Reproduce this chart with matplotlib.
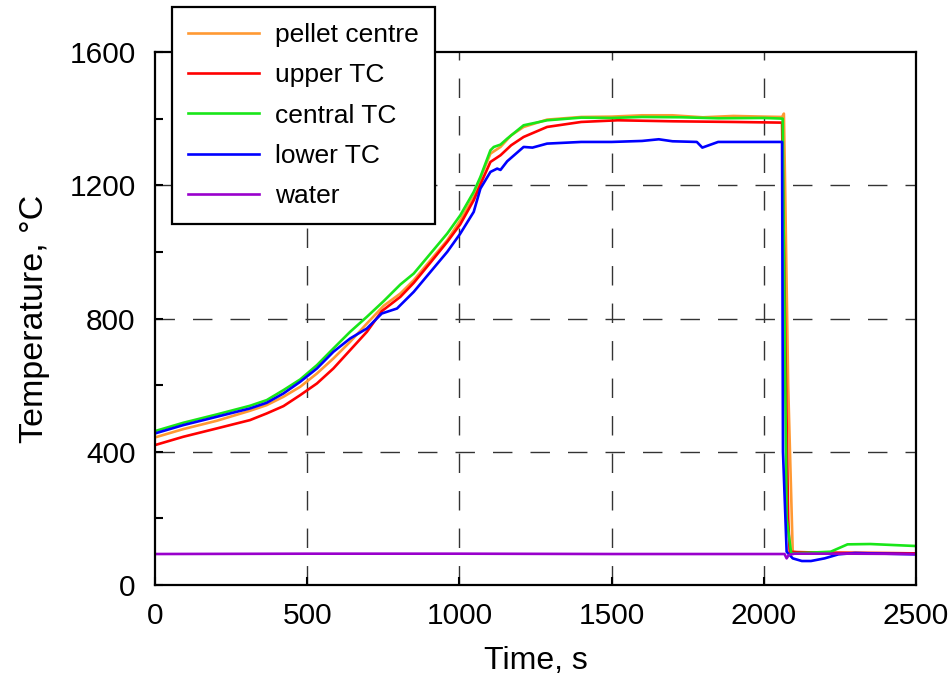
import numpy as np
import matplotlib
matplotlib.use("Agg")
import matplotlib.pyplot as plt

plt.rcParams['font.family'] = ['Liberation Sans', 'DejaVu Sans']

# pellet centre (orange)
t_pellet = [0, 93, 203, 312, 367, 422, 477, 532, 586, 641, 696, 751, 806, 850,
            905, 960, 1003, 1047, 1075, 1102, 1135, 1170, 1211, 1288, 1400,
            1500, 1600, 1700, 1800, 1900, 2000, 2060, 2066, 2070, 2080, 2095,
            2110, 2200, 2500]
T_pellet = [443, 468, 493, 523, 540, 565, 595, 635, 680, 730, 785, 838, 875, 915,
            975, 1035, 1095, 1165, 1235, 1295, 1315, 1350, 1375, 1397, 1405,
            1406, 1410, 1410, 1404, 1408, 1406, 1405, 1415, 1200, 600, 100,
            98, 97, 95]

# upper TC (red)
t_upper = [0, 93, 203, 312, 367, 422, 477, 532, 586, 641, 696, 745, 806, 850,
           905, 960, 1003, 1047, 1075, 1102, 1135, 1170, 1211, 1288, 1400,
           1520, 1700, 1900, 2060, 2068, 2080, 2085, 2100, 2200, 2500]
T_upper = [420, 445, 470, 495, 515, 537, 570, 605, 650, 705, 760, 822, 865, 907,
           968, 1030, 1083, 1155, 1215, 1270, 1290, 1320, 1345, 1375, 1390,
           1395, 1392, 1390, 1388, 900, 200, 100, 99, 97, 95]

# central TC (green)
t_central = [0, 93, 203, 312, 367, 422, 477, 532, 586, 641, 696, 751, 806, 850,
             905, 960, 1003, 1047, 1069, 1102, 1113, 1135, 1157, 1211, 1288,
             1400, 1500, 1600, 1730, 1850, 2000, 2062, 2066, 2075, 2090, 2150,
             2220, 2275, 2350, 2500]
T_central = [462, 487, 512, 538, 555, 585, 617, 660, 710, 760, 805, 852, 902, 935,
             995, 1055, 1110, 1180, 1225, 1305, 1315, 1322, 1340, 1380, 1395,
             1403, 1402, 1405, 1404, 1401, 1402, 1400, 1000, 200, 95, 97,
             100, 122, 123, 117]

# lower TC (blue)
t_lower = [0, 93, 203, 312, 367, 422, 477, 532, 586, 641, 696, 745, 795, 850,
           905, 960, 1003, 1047, 1069, 1102, 1124, 1135, 1157, 1211, 1240,
           1288, 1400, 1500, 1600, 1655, 1700, 1780, 1798, 1850, 2000, 2060,
           2063, 2075, 2095, 2125, 2155, 2200, 2245, 2300, 2500]
T_lower = [455, 480, 505, 530, 547, 575, 610, 650, 700, 740, 770, 815, 830, 880,
           940, 1000, 1055, 1120, 1190, 1240, 1250, 1246, 1272, 1315, 1313,
           1325, 1330, 1330, 1333, 1338, 1332, 1330, 1313, 1330, 1330, 1330,
           400, 100, 80, 72, 72, 80, 92, 96, 92]

# water (purple)
t_water = [0, 500, 1000, 1500, 2000, 2068, 2075, 2082, 2100, 2300, 2500]
T_water = [93, 94, 94, 93, 93, 93, 80, 90, 94, 94, 93]

series = [
    ("pellet centre", t_pellet, T_pellet, "#ff9933"),
    ("upper TC", t_upper, T_upper, "#ff0000"),
    ("central TC", t_central, T_central, "#19e619"),
    ("lower TC", t_lower, T_lower, "#0000ff"),
    ("water", t_water, T_water, "#9900cc"),
]

fig = plt.figure(figsize=(9.48, 6.77), dpi=100)
ax = fig.add_axes([155 / 948, 1 - 585 / 677, (916 - 155) / 948, (585 - 52) / 677])

for name, t, T, c in series:
    ax.plot(t, T, color=c, lw=1.9, label=name)

ax.set_xlim(0, 2500)
ax.set_ylim(0, 1600)
ax.set_xticks(np.arange(0, 2501, 500))
ax.set_yticks(np.arange(0, 1601, 400))
ax.set_yticks(np.arange(200, 1600, 400), minor=True)

# dashed grid at interior major ticks
for xv in range(500, 2500, 500):
    ax.axvline(xv, color="#333333", lw=1.0, ls=(0, (14, 13)), zorder=0.5)
for yv in range(400, 1600, 400):
    ax.axhline(yv, color="#333333", lw=1.0, ls=(0, (14, 13)), zorder=0.5)

ax.tick_params(which="both", direction="in", length=6, width=1.5,
               labelsize=21.5)
ax.tick_params(axis="y", pad=14)
ax.tick_params(axis="x", pad=12)
for sp in ax.spines.values():
    sp.set_linewidth(1.6)

ax.set_xlabel("Time, s", fontsize=23, labelpad=12)
ax.set_ylabel("Temperature, °C", fontsize=24.5, labelpad=14)

leg = fig.legend(loc="upper left", bbox_to_anchor=(172 / 948, 1 - 7 / 677),
                 borderaxespad=0, fontsize=19, frameon=True, fancybox=False,
                 edgecolor="black", framealpha=1, handlelength=2.7,
                 handletextpad=0.6, labelspacing=0.62, borderpad=0.6)
leg.get_frame().set_linewidth(1.6)

fig.savefig("out.png", dpi=100)
